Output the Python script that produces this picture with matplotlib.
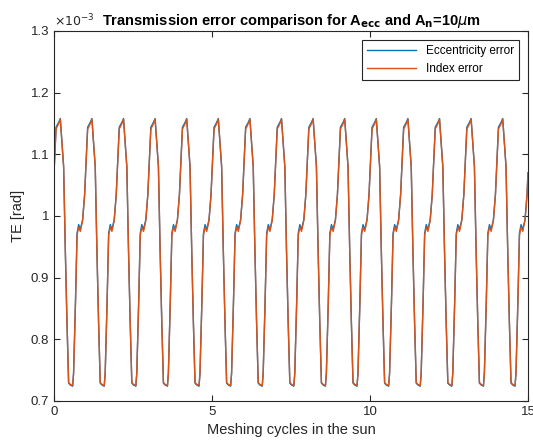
import numpy as np
import matplotlib.pyplot as plt

plt.rcParams['font.family'] = ['Liberation Sans', 'DejaVu Sans']

# Un ciclo de engrane (fase 0..1), TE en 1e-3 rad
fase = [0.00, 0.065, 0.15, 0.20, 0.305, 0.358, 0.41, 0.463, 0.516, 0.59,
        0.62, 0.68, 0.73, 0.78, 0.833, 0.906, 0.97]
te_excentricidad = [1.070, 1.144, 1.152, 1.158, 1.080, 0.945, 0.830, 0.729, 0.726, 0.724,
                    0.745, 0.860, 0.972, 0.986, 0.978, 0.994, 1.035]
te_indice = [1.070, 1.141, 1.150, 1.157, 1.080, 0.945, 0.830, 0.730, 0.727, 0.725,
             0.745, 0.860, 0.969, 0.982, 0.975, 0.993, 1.035]
n_ciclos = 15

x = np.concatenate([np.array(fase) + k for k in range(n_ciclos)] + [[15.0]])
y_exc = np.concatenate([te_excentricidad] * n_ciclos + [[te_excentricidad[0]]])
y_ind = np.concatenate([te_indice] * n_ciclos + [[te_indice[0]]])

fig = plt.figure(figsize=(5.33, 4.46), dpi=100)
ax = fig.add_axes([0.1013, 0.1009, 0.8893, 0.8296])

ax.plot(x, y_exc, color='#0072BD', lw=1.0, label='Eccentricity error')
ax.plot(x, y_ind, color='#D95319', lw=1.0, label='Index error')

ax.set_xlim(0, 15)
ax.set_ylim(0.7, 1.3)
ax.set_xticks([0, 5, 10, 15])
ax.set_yticks([0.7, 0.8, 0.9, 1.0, 1.1, 1.2, 1.3])
ax.set_yticklabels(['0.7', '0.8', '0.9', '1', '1.1', '1.2', '1.3'])
ax.tick_params(direction='in', top=True, right=True, length=4, labelsize=9.5,
               colors='#262626')
for s in ax.spines.values():
    s.set_color('#262626')
    s.set_linewidth(0.8)

ax.text(0.0, 1.005, r'$\times10^{-3}$', transform=ax.transAxes, fontsize=9,
        color='#262626', va='bottom', ha='left')
ax.set_title(r'Transmission error comparison for A$_{\mathbf{ecc}}$ and A$_{\mathbf{n}}$=10$\mu$m',
             fontsize=10.5, fontweight='bold', pad=4)
ax.set_xlabel('Meshing cycles in the sun', fontsize=10.5, color='#262626')
ax.set_ylabel('TE [rad]', fontsize=10.5, color='#262626')

leg = ax.legend(loc='upper right', fontsize=8.5, fancybox=False, framealpha=1,
                edgecolor='#262626', handlelength=4.2, borderaxespad=0.8)
leg.get_frame().set_linewidth(0.8)

fig.savefig('out.png', dpi=100)
